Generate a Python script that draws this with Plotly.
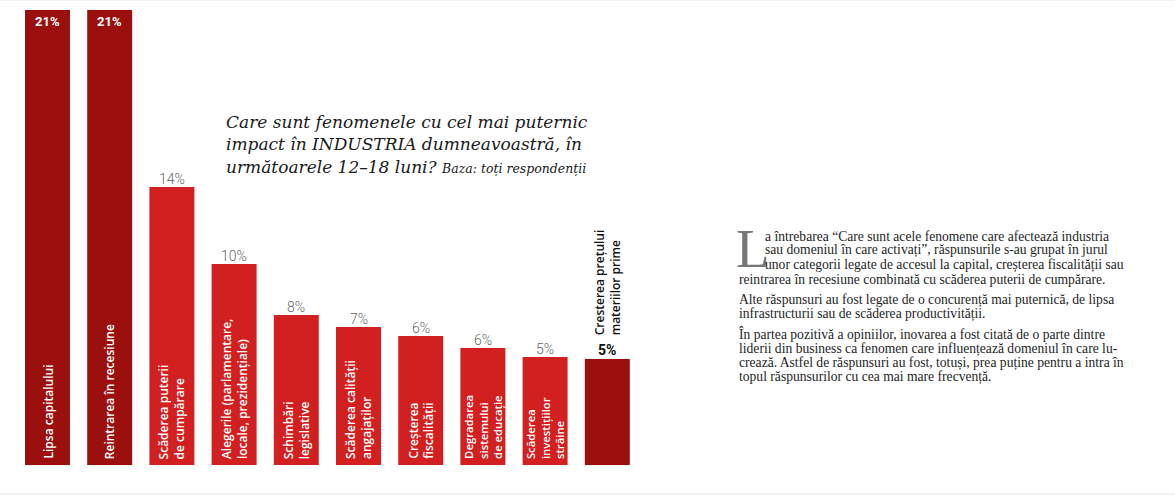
import plotly.graph_objects as go

W, H = 1175, 502

# ---- data ----
categories = [
    "Lipsa capitalului",
    "Reintrarea în recesiune",
    "Scăderea puterii<br>de cumpărare",
    "Alegerile (parlamentare,<br>locale, prezidențiale)",
    "Schimbări<br>legislative",
    "Scăderea calității<br>angajaților",
    "Creșterea<br>fiscalității",
    "Degradarea<br>sistemului<br>de educație",
    "Scăderea<br>investițiilor<br>străine",
    "Cresterea prețului<br>materiilor prime",
]
values = [21, 21, 13.9, 10.05, 7.5, 6.9, 6.45, 5.85, 5.4, 5.3]
value_labels = ["21%", "21%", "14%", "10%", "8%", "7%", "6%", "6%", "5%", "5%"]
top_count = 2          # the two leading bars, drawn on their own (broken) scale
highlight_last = True  # the last bar is highlighted

title_lines = [
    "Care sunt fenomenele cu cel mai puternic",
    "impact în INDUSTRIA dumneavoastră, în",
    "următoarele 12–18 luni?",
]
title_note = "Baza: toți respondenții"

dropcap = "L"
paragraphs = [
    ["a întrebarea “Care sunt acele fenomene care afectează industria",
     "sau domeniul în care activați”, răspunsurile s-au grupat în jurul",
     "unor categorii legate de accesul la capital, creșterea fiscalității sau",
     "reintrarea în recesiune combinată cu scăderea puterii de cumpărare."],
    ["Alte răspunsuri au fost legate de o concurență mai puternică, de lipsa",
     "infrastructurii sau de scăderea productivității."],
    ["În partea pozitivă a opiniilor, inovarea a fost citată de o parte dintre",
     "liderii din business ca fenomen care influențează domeniul în care lu-",
     "crează. Astfel de răspunsuri au fost, totuși, prea puține pentru a intra în",
     "topul răspunsurilor cu cea mai mare frecvență."],
]

# ---- styles ----
DARK = "#9b0f0f"
RED = "#d22020"
LABEL_FONT = "Open Sans"
VALUE_FONT = "Roboto"


def py(px):
    return 1 - px / H


def pxx(px):
    return px / W


fig = go.Figure()

rest_cats = categories[top_count:]
rest_vals = values[top_count:]
rest_colors = [RED] * len(rest_cats)
if highlight_last:
    rest_colors[-1] = DARK

fig.add_trace(go.Bar(
    x=categories[:top_count], y=values[:top_count], yaxis="y2",
    marker=dict(color=DARK, line=dict(width=0)), hoverinfo="skip",
))
fig.add_trace(go.Bar(
    x=rest_cats, y=rest_vals, yaxis="y",
    marker=dict(color=rest_colors, line=dict(width=0)), hoverinfo="skip",
))

annotations = []
n = len(categories)
for i, (c, v, lab) in enumerate(zip(categories, values, value_labels)):
    last = highlight_last and i == n - 1
    yref = "y2" if i < top_count else "y"
    # category label
    if last:
        annotations.append(dict(
            x=c, y=v, xref="x", yref=yref, text=c, textangle=-90,
            xanchor="center", yanchor="bottom", align="left", yshift=22,
            showarrow=False,
            font=dict(family=LABEL_FONT, size=12, color="#111", weight=600),
        ))
    else:
        nlines = c.count("<br>") + 1
        annotations.append(dict(
            x=c, y=0, xref="x", yref=yref, text=c, textangle=-90,
            xanchor="center", yanchor="bottom", align="left", yshift=4,
            showarrow=False,
            font=dict(family=LABEL_FONT, size=12 if nlines < 3 else 11.3,
                      color="white", weight=600),
        ))
    # value label
    if i < top_count:
        annotations.append(dict(
            x=c, y=v, xref="x", yref=yref, text=lab, xanchor="center",
            yanchor="middle", yshift=-12, showarrow=False,
            font=dict(family=VALUE_FONT, size=13, color="white", weight=700),
        ))
    elif last:
        annotations.append(dict(
            x=c, y=v, xref="x", yref=yref, text=lab, xanchor="center",
            yanchor="bottom", yshift=-1, showarrow=False,
            font=dict(family=VALUE_FONT, size=14, color="#111", weight=700),
        ))
    else:
        annotations.append(dict(
            x=c, y=v, xref="x", yref=yref, text=lab, xanchor="center",
            yanchor="bottom", yshift=-2, showarrow=False,
            font=dict(family=VALUE_FONT, size=14, color="#666", weight=300),
        ))

# title
title_base = [130, 152, 175]
for j, t in enumerate(title_lines):
    txt = f"<i>{t}</i>"
    if j == len(title_lines) - 1:
        txt += f" <span style='font-size:12.5px'><i>{title_note}</i></span>"
    annotations.append(dict(
        x=pxx(224), y=py(title_base[j] + 4), xref="paper", yref="paper",
        text=txt, xanchor="left", yanchor="bottom", showarrow=False,
        font=dict(family="DejaVu Serif", size=17, color="#1a1a1a"),
    ))

# paragraph text
annotations.append(dict(
    x=pxx(734), y=py(228), xref="paper", yref="paper", text=dropcap,
    xanchor="left", yanchor="top", valign="top", height=50, showarrow=False,
    yshift=12,
    font=dict(family="Liberation Serif", size=55, color="#777"),
))
base = 242
spacing = 14.3
y = base
for pi, para in enumerate(paragraphs):
    for li, line in enumerate(para):
        indent = 763 if (pi == 0 and li < 3) else 737
        annotations.append(dict(
            x=pxx(indent), y=py(y + 4), xref="paper", yref="paper",
            text=line, xanchor="left", yanchor="bottom", showarrow=False,
            font=dict(family="Liberation Serif", size=13.6, color="#1e1e1e"),
        ))
        y += spacing
    y += 6.3

fig.update_layout(
    width=W, height=H,
    margin=dict(l=0, r=0, t=0, b=0),
    paper_bgcolor="white", plot_bgcolor="white",
    showlegend=False, barmode="overlay", bargap=0.277,
    xaxis=dict(domain=[pxx(16.4), pxx(638.4)], range=[-0.5, n - 0.5],
               categoryorder="array", categoryarray=categories,
               showticklabels=False, showgrid=False, zeroline=False,
               showline=False, ticks=""),
    yaxis=dict(domain=[py(465), py(10)], range=[0, 22.75], visible=False,
               showgrid=False, zeroline=False),
    yaxis2=dict(domain=[py(465), py(10)], range=[0, 21], overlaying="y",
                visible=False, showgrid=False, zeroline=False),
    annotations=annotations,
    shapes=[
        dict(type="line", xref="paper", yref="paper", x0=0, x1=1,
             y0=py(494), y1=py(494), line=dict(color="#ececec", width=1.5)),
        dict(type="line", xref="paper", yref="paper", x0=0, x1=1,
             y0=py(0.5), y1=py(0.5), line=dict(color="#f2f2f2", width=1)),
    ],
)

fig.write_html("out.html", config={"displayModeBar": False})

# remove the browser's default page margin so the figure sits at (0, 0)
with open("out.html", encoding="utf-8") as f:
    html = f.read()
html = html.replace("<head>", "<head><style>html,body{margin:0;padding:0;overflow:hidden}</style>", 1)
with open("out.html", "w", encoding="utf-8") as f:
    f.write(html)
